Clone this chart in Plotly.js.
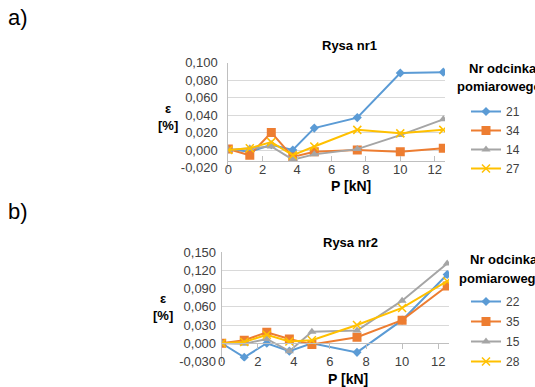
<!DOCTYPE html>
<html>
<head>
<meta charset="utf-8">
<script src="https://cdn.plot.ly/plotly-3.0.1.min.js"></script>
<style>html,body{margin:0;padding:0;background:#fff;overflow:hidden}#chart{width:535px;height:387px}</style>
</head>
<body>
<div id="chart"></div>
<script>
// Load P [kN]
const loadP = [0, 1.25, 2.5, 3.75, 5, 7.5, 10, 12.5];

// a) Rysa nr1 — strain ε [%]
const crack1Names = ['21', '34', '14', '27'];
const c1_21 = [0.001, -0.002, 0.006, 0.000, 0.025, 0.037, 0.088, 0.089];
const c1_34 = [0.001, -0.006, 0.020, -0.008, -0.002, 0.000, -0.002, 0.002];
const c1_14 = [0.000, 0.002, 0.004, -0.011, -0.005, 0.001, 0.017, 0.035];
const c1_27 = [0.000, 0.002, 0.009, -0.006, 0.004, 0.023, 0.019, 0.023];

// b) Rysa nr2 — strain ε [%]
const crack2Names = ['22', '35', '15', '28'];
const c2_22 = [0.000, -0.023, 0.000, -0.013, 0.000, -0.015, 0.038, 0.113];
const c2_35 = [0.000, 0.005, 0.018, 0.007, -0.002, 0.010, 0.038, 0.094];
const c2_15 = [0.000, -0.001, 0.007, -0.013, 0.019, 0.021, 0.070, 0.131];
const c2_28 = [0.000, 0.002, 0.014, 0.003, 0.005, 0.030, 0.058, 0.102];

// tick labels
const xTicks = [0, 2, 4, 6, 8, 10, 12];
const y1Ticks = [-0.02, 0, 0.02, 0.04, 0.06, 0.08, 0.1];
const y1Labels = ['-0,020', '0,000', '0,020', '0,040', '0,060', '0,080', '0,100'];
const y2Ticks = [-0.03, 0, 0.03, 0.06, 0.09, 0.12, 0.15];
const y2Labels = ['-0,030', '0,000', '0,030', '0,060', '0,090', '0,120', '0,150'];

const colors = ['#5B9BD5', '#ED7D31', '#A5A5A5', '#FFC000'];
const symbols = ['diamond', 'square', 'triangle-up', 'x-thin-open'];
const msizes = [7, 9, 8, 8];

const FONT = 'Liberation Sans, Arial, sans-serif';

function mk(x, y, i, name, xa, ya, leg) {
  const m = {color: colors[i], size: msizes[i], symbol: symbols[i]};
  if (symbols[i] === 'x-thin-open') m.line = {color: colors[i], width: 1.5};
  return {
    x: x, y: y, name: name, type: 'scatter', mode: 'lines+markers',
    xaxis: xa, yaxis: ya, legend: leg, legendgroup: leg + name,
    line: {color: colors[i], width: 2}, marker: m
  };
}

const s1 = [c1_21, c1_34, c1_14, c1_27];
const s2 = [c2_22, c2_35, c2_15, c2_28];
const traces = [];
s1.forEach((s, i) => traces.push(mk(loadP, s, i, crack1Names[i], 'x', 'y', 'legend')));
s2.forEach((s, i) => traces.push(mk(loadP, s, i, crack2Names[i], 'x2', 'y2', 'legend2')));

const H = 387, W = 535;
const py = v => 1 - v / H;
const px = v => v / W;

const tickFont = {family: FONT, size: 13, color: '#404040'};
const gridC = '#d9d9d9';

const layout = {
  width: W, height: H,
  margin: {l: 0, r: 0, t: 0, b: 0},
  paper_bgcolor: '#fff', plot_bgcolor: '#fff',
  separators: ', ',
  font: {family: FONT, size: 13, color: '#000'},
  xaxis: {
    domain: [px(228.3), px(445)], range: [0, 12.6],
    anchor: 'free', position: py(161),
    tickvals: xTicks, showgrid: false, zeroline: false,
    showline: true, linecolor: '#bfbfbf', linewidth: 1,
    ticks: 'inside', ticklen: 5, tickcolor: '#bfbfbf',
    tickfont: tickFont, ticklabelstandoff: -4
  },
  yaxis: {
    domain: [py(167.5), py(62.5)], range: [-0.02, 0.1],
    anchor: 'x', tickvals: y1Ticks, ticktext: y1Labels,
    showgrid: true, gridcolor: gridC, zeroline: false,
    showline: true, linecolor: '#bfbfbf', ticks: '',
    tickfont: tickFont, ticklabelstandoff: 7
  },
  xaxis2: {
    domain: [px(221.7), px(449)], range: [0, 12.6],
    anchor: 'free', position: py(343.3),
    tickvals: xTicks, showgrid: false, zeroline: false,
    showline: true, linecolor: '#bfbfbf', linewidth: 1,
    ticks: 'outside', ticklen: 5, tickcolor: '#bfbfbf',
    tickfont: tickFont, ticklabelstandoff: 1
  },
  yaxis2: {
    domain: [py(361.5), py(252)], range: [-0.03, 0.15],
    anchor: 'x2', tickvals: y2Ticks, ticktext: y2Labels,
    showgrid: true, gridcolor: gridC, zeroline: false,
    showline: true, linecolor: '#bfbfbf', ticks: '',
    tickfont: tickFont, ticklabelstandoff: 2
  },
  showlegend: true,
  legend: {
    x: px(466), xanchor: 'left', y: py(97), yanchor: 'top',
    bgcolor: 'rgba(0,0,0,0)', font: {family: FONT, size: 12, color: '#404040'},
    tracegroupgap: 0
  },
  legend2: {
    x: px(466), xanchor: 'left', y: py(287), yanchor: 'top',
    bgcolor: 'rgba(0,0,0,0)', font: {family: FONT, size: 12, color: '#404040'},
    tracegroupgap: 1
  },
  annotations: [
    {text: 'a)', x: px(6), y: py(18), xref: 'paper', yref: 'paper', xanchor: 'left', yanchor: 'middle', showarrow: false, font: {family: FONT, size: 22, color: '#000'}},
    {text: 'b)', x: px(6), y: py(211), xref: 'paper', yref: 'paper', xanchor: 'left', yanchor: 'middle', showarrow: false, font: {family: FONT, size: 22, color: '#000'}},
    {text: '<b>Rysa nr1</b>', x: px(349), y: py(46), xref: 'paper', yref: 'paper', xanchor: 'center', yanchor: 'middle', showarrow: false, font: {family: FONT, size: 13}},
    {text: '<b>Rysa nr2</b>', x: px(350), y: py(242), xref: 'paper', yref: 'paper', xanchor: 'center', yanchor: 'middle', showarrow: false, font: {family: FONT, size: 13}},
    {text: '<b>ε</b><br><b>[%]</b>', x: px(168), y: py(117), xref: 'paper', yref: 'paper', xanchor: 'center', yanchor: 'middle', showarrow: false, font: {family: FONT, size: 13}},
    {text: '<b>ε</b><br><b>[%]</b>', x: px(163), y: py(307), xref: 'paper', yref: 'paper', xanchor: 'center', yanchor: 'middle', showarrow: false, font: {family: FONT, size: 13}},
    {text: '<b>P [kN]</b>', x: px(351), y: py(186), xref: 'paper', yref: 'paper', xanchor: 'center', yanchor: 'middle', showarrow: false, font: {family: FONT, size: 14}},
    {text: '<b>P [kN]</b>', x: px(348), y: py(379), xref: 'paper', yref: 'paper', xanchor: 'center', yanchor: 'middle', showarrow: false, font: {family: FONT, size: 14}},
    {text: '<b>Nr odcinka</b>', x: px(467), y: py(68), xref: 'paper', yref: 'paper', xanchor: 'left', yanchor: 'middle', showarrow: false, font: {family: FONT, size: 13}},
    {text: '<b>pomiarowego</b>', x: px(455), y: py(87), xref: 'paper', yref: 'paper', xanchor: 'left', yanchor: 'middle', showarrow: false, font: {family: FONT, size: 13}},
    {text: '<b>Nr odcinka</b>', x: px(468), y: py(259), xref: 'paper', yref: 'paper', xanchor: 'left', yanchor: 'middle', showarrow: false, font: {family: FONT, size: 13}},
    {text: '<b>pomiarowego</b>', x: px(457), y: py(278), xref: 'paper', yref: 'paper', xanchor: 'left', yanchor: 'middle', showarrow: false, font: {family: FONT, size: 13}}
  ]
};

Plotly.newPlot('chart', traces, layout, {staticPlot: true, displayModeBar: false});
</script>
</body>
</html>
